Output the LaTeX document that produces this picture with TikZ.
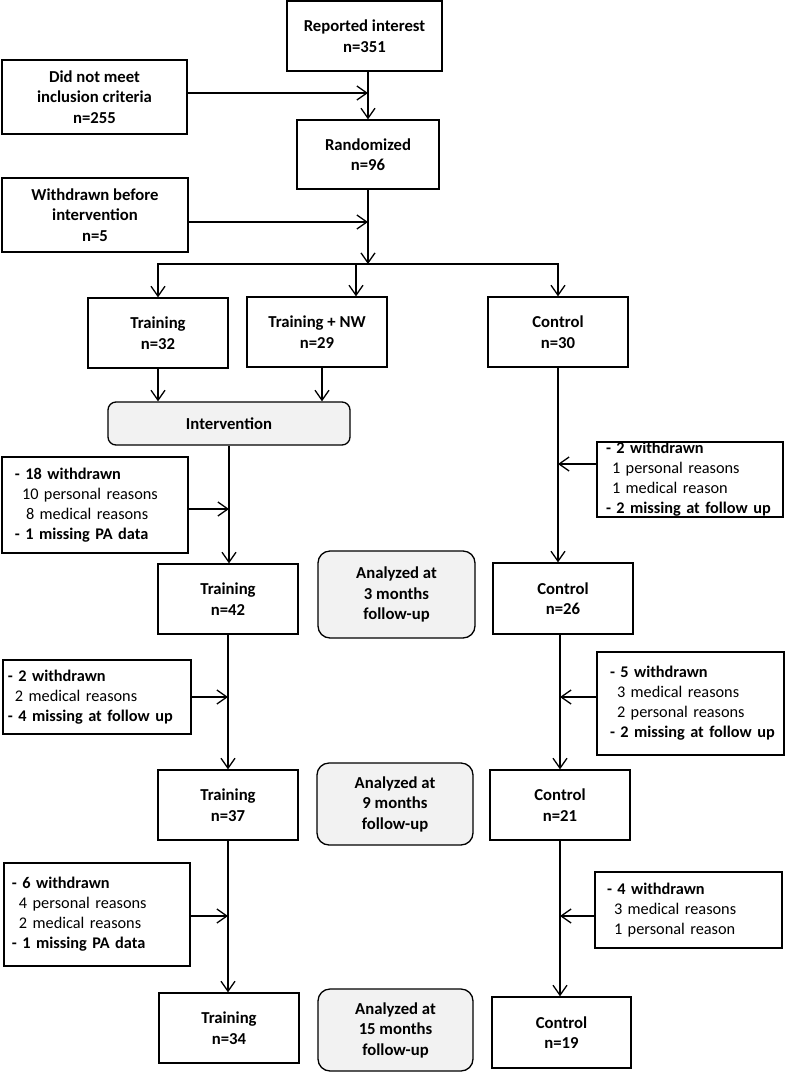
\documentclass[tikz,border=0pt]{standalone}
\usepackage{fontspec}
\setmainfont{Carlito}
\usetikzlibrary{arrows.meta,calc}
\definecolor{boxgray}{HTML}{F2F2F2}
\begin{document}
\begin{tikzpicture}[x=1pt,y=-1pt,
  box/.style={draw, line width=1.3pt, font=\fontsize{16.7}{20.5}\selectfont\bfseries, align=center, inner sep=0pt},
  gbox/.style={box, rounded corners=12pt, fill=boxgray},
  det/.style={draw, line width=1.3pt, font=\fontsize{16.3}{20}\selectfont, align=left, inner ysep=0pt},
  arr/.style={line width=1.3pt, -{Straight Barb[length=10pt,width=14pt]}}
]
\useasboundingbox (0,0) rectangle (785,1072);

% top section
\node[box, minimum width=155pt, minimum height=70pt] (rep) at (364.5,36) {Reported interest\\n=351};
\node[box, minimum width=185pt, minimum height=74pt] (dnm) at (94.5,97) {Did not meet\\inclusion criteria\\n=255};
\node[box, minimum width=142pt, minimum height=69pt] (rand) at (368,154.5) {Randomized\\n=96};
\node[box, minimum width=186pt, minimum height=74pt] (wbi) at (95,215) {Withdrawn before\\intervention\\n=5};
\coordinate (j) at (368,264);

% groups
\node[box, minimum width=140pt, minimum height=70pt] (tr32) at (158,333) {Training\\n=32};
\node[box, minimum width=140pt, minimum height=70pt] (trnw) at (317,332) {Training + NW\\n=29};
\node[box, minimum width=140pt, minimum height=70pt] (ctl30) at (558,332) {Control\\n=30};
\node[box, rounded corners=8pt, fill=boxgray, minimum width=242pt, minimum height=43pt] (interv) at (229,423.5) {Intervention};

% 3 months
\node[det, inner xsep=13pt, text width=160pt, minimum height=96pt] (w18) at (95,505)
  {\mbox{\bfseries - 18 withdrawn}\\\mbox{\hspace*{7pt}10 personal reasons}\\\mbox{\hspace*{11pt}8 medical reasons}\\\mbox{\bfseries - 1 missing PA data}};
\node[det, inner xsep=9pt, text width=168pt, minimum height=75pt] (w2c) at (690,479.5)
  {\mbox{\bfseries - 2 withdrawn}\\\mbox{\hspace*{6pt}1 personal reasons}\\\mbox{\hspace*{6pt}1 medical reason}\\\mbox{\bfseries - 2 missing at follow up}};
\node[box, minimum width=140pt, minimum height=70pt] (tr42) at (228,599) {Training\\n=42};
\node[gbox, minimum width=157pt, minimum height=87pt] (an3) at (396.5,594.5) {Analyzed at\\3 months\\follow-up};
\node[box, minimum width=140pt, minimum height=71pt] (ctl26) at (563,598.5) {Control\\n=26};

% 9 months
\node[det, inner xsep=5pt, text width=178pt, minimum height=74pt] (w2t) at (97,697)
  {\mbox{\bfseries - 2 withdrawn}\\\mbox{\hspace*{7pt}2 medical reasons}\\\mbox{\bfseries - 4 missing at follow up}};
\node[det, inner xsep=13pt, text width=161pt, minimum height=103pt] (w5) at (690.5,703.5)
  {\mbox{\bfseries - 5 withdrawn}\\\mbox{\hspace*{7pt}3 medical reasons}\\\mbox{\hspace*{7pt}2 personal reasons}\\\mbox{\bfseries - 2 missing at follow up}};
\node[box, minimum width=140pt, minimum height=70pt] (tr37) at (228,805) {Training\\n=37};
\node[gbox, minimum width=156pt, minimum height=82pt] (an9) at (395,804) {Analyzed at\\9 months\\follow-up};
\node[box, minimum width=140pt, minimum height=70pt] (ctl21) at (560,805) {Control\\n=21};

% 15 months
\node[det, inner xsep=8pt, text width=170pt, minimum height=103pt] (w6) at (97,914.5)
  {\mbox{\bfseries - 6 withdrawn}\\\mbox{\hspace*{7pt}4 personal reasons}\\\mbox{\hspace*{7pt}2 medical reasons}\\\mbox{\bfseries - 1 missing PA data}};
\node[det, inner xsep=12pt, text width=163pt, minimum height=76pt] (w4) at (688.5,910)
  {\mbox{\bfseries - 4 withdrawn}\\\mbox{\hspace*{7pt}3 medical reasons}\\\mbox{\hspace*{7pt}1 personal reason}};
\node[box, minimum width=140pt, minimum height=70pt] (tr34) at (229,1028) {Training\\n=34};
\node[gbox, minimum width=155pt, minimum height=82pt] (an15) at (395.5,1030) {Analyzed at\\15 months\\follow-up};
\node[box, minimum width=139pt, minimum height=71pt] (ctl19) at (561.5,1032.5) {Control\\n=19};

% connectors top
\draw[arr] (rand.north |- rep.south) -- (rand.north);
\draw[arr] ([yshift=4pt]dnm.east) coordinate (d1) -- (d1 -| rand.north);
\draw[arr] (rand.south) -- (j);
\draw[arr] ([yshift=-7pt]wbi.east) coordinate (d2) -- (d2 -| rand.south);
\draw[arr] (j) -| (tr32.north);
\draw[arr] (j) -| (ctl30.north);
\draw[arr] ([xshift=39pt]trnw.north |- j) -- ([xshift=39pt]trnw.north);
\draw[arr] (tr32.south) -- (tr32.south |- interv.north);
\draw[arr] ([xshift=5pt]trnw.south) coordinate (t2) -- (t2 |- interv.north);

% training branch
\draw[arr] (interv.south) -- (interv.south |- tr42.north);
\draw[arr] ([yshift=-4pt]w18.east) coordinate (a1) -- (a1 -| interv.south);
\draw[arr] (tr42.south) -- (tr37.north);
\draw[arr] (w2t.east) -- (w2t.east -| tr42.south);
\draw[arr] (tr37.south) -- (tr37.south |- tr34.north);
\draw[arr] ([yshift=-1.5pt]w6.east) coordinate (a3) -- (a3 -| tr37.south);

% control branch
\draw[arr] (ctl30.south) -- (ctl30.south |- ctl26.north);
\draw[arr] ([yshift=15.5pt]w2c.west) coordinate (b1) -- (b1 -| ctl30.south);
\draw[arr] (ctl21.north |- ctl26.south) -- (ctl21.north);
\draw[arr] ([yshift=6.5pt]w5.west) coordinate (b2) -- (b2 -| ctl21.north);
\draw[arr] (ctl21.south) -- (ctl21.south |- ctl19.north);
\draw[arr] ([yshift=-6pt]w4.west) coordinate (b3) -- (b3 -| ctl21.south);
\end{tikzpicture}
\end{document}
